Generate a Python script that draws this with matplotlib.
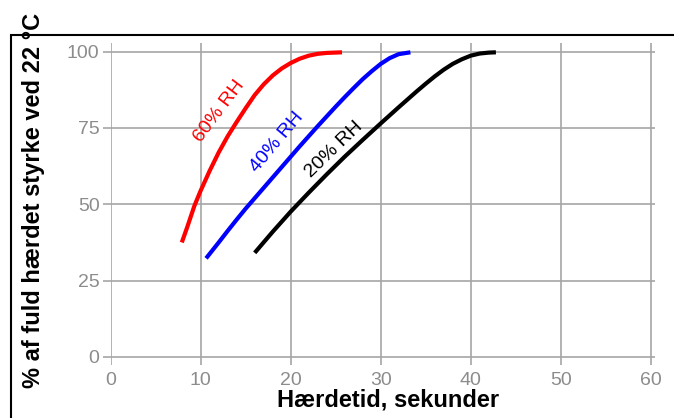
import matplotlib
matplotlib.use("Agg")
import matplotlib.pyplot as plt
from matplotlib.patches import Rectangle

plt.rcParams['font.family'] = ['Liberation Sans', 'DejaVu Sans']

# Data
x60 = [7.9, 8.5, 9.3, 10.0, 11.0, 12.0, 13.0, 14.0, 15.0, 16.0, 17.0, 18.0, 19.0, 20.0, 21.0, 22.0, 23.0, 24.0, 25.7]
y60 = [37.5, 42.5, 49.5, 54.5, 61.0, 67.0, 72.3, 77.0, 81.5, 85.8, 89.3, 92.2, 94.5, 96.3, 97.7, 98.7, 99.3, 99.6, 99.8]

x40 = [10.6, 12.0, 13.0, 14.0, 15.0, 16.0, 17.0, 18.0, 19.0, 20.0, 21.0, 22.0, 23.0, 24.0, 25.0, 26.0, 27.0, 28.0, 29.0, 30.0, 31.0, 32.0, 33.3]
y40 = [32.3, 37.5, 41.3, 45.0, 48.6, 52.0, 55.4, 58.8, 62.2, 65.6, 69.0, 72.3, 75.6, 78.8, 82.0, 85.1, 88.1, 91.0, 93.6, 96.0, 97.9, 99.2, 99.8]

x20 = [16.0, 18.0, 20.0, 22.0, 24.0, 26.0, 28.0, 30.0, 32.0, 34.0, 35.0, 36.0, 37.0, 38.0, 39.0, 40.0, 41.0, 42.0, 42.8]
y20 = [34.1, 41.0, 47.6, 53.8, 59.8, 65.6, 71.1, 76.5, 81.8, 87.0, 89.5, 91.9, 94.1, 96.0, 97.5, 98.7, 99.4, 99.7, 99.8]

labels = ["60% RH", "40% RH", "20% RH"]
colors = ["#ff0000", "#0000ff", "#000000"]
label_pos = [(12.1, 80.5), (18.5, 70.2), (24.8, 68.0)]
label_rot = [53, 50, 44]

xticks = [0, 10, 20, 30, 40, 50, 60]
yticks = [0, 25, 50, 75, 100]
xlabel = "Hærdetid, sekunder"
ylabel = "% af fuld hærdet styrke ved 22 °C"

W, H = 674, 418
fig = plt.figure(figsize=(W / 100, H / 100), dpi=100)
left, right, top, bottom = 110.7, 655, 43, 365
ax = fig.add_axes([left / W, 1 - bottom / H, (right - left) / W, (bottom - top) / H])

# border frame
fig.patches.append(Rectangle((11 / W, -0.1), 1.2, 1 - 35 / H + 0.1, transform=fig.transFigure,
                             fill=False, edgecolor='black', linewidth=1.5))

grid_c = '#a6a6a6'
ax.set_xlim(0, (right - left) / 90.0 * 10)
ax.set_ylim(-(bottom - 356.9) / 3.052, (356.9 - top) / 3.052)
for s in ax.spines.values():
    s.set_visible(False)
ax.set_xticks(xticks)
ax.set_yticks(yticks)
ax.grid(True, color=grid_c, linewidth=1.2)
ax.set_axisbelow(True)
ax.tick_params(axis='x', length=0, pad=5, labelsize=14, labelcolor='#8c8c8c')
ax.tick_params(axis='y', length=6, width=1.2, color=grid_c, pad=2, labelsize=14, labelcolor='#8c8c8c')

for xs, ys, c in zip([x60, x40, x20], [y60, y40, y20], colors):
    ax.plot(xs, ys, color=c, linewidth=3, solid_capstyle='butt', solid_joinstyle='round')

for lab, c, (lx, ly), r in zip(labels, colors, label_pos, label_rot):
    ax.text(lx, ly, lab, color=c, fontsize=14, rotation=r, ha='center', va='center',
            rotation_mode='anchor')

fig.text(388.5 / W, 1 - 407 / H, xlabel, fontsize=17, fontweight='bold', ha='center', va='baseline')
fig.text(34 / W, 1 - 200 / H, ylabel, fontsize=17, fontweight='bold', ha='center', va='center',
         rotation=90)

fig.savefig("out.png", dpi=100)
